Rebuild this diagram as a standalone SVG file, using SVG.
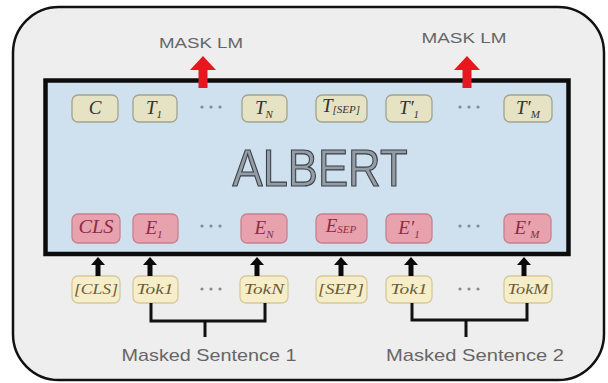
<svg xmlns="http://www.w3.org/2000/svg" width="608" height="383" viewBox="0 0 608 383">
  <defs>
    <style>
      .frame { fill: #eeeeee; stroke: #111; stroke-width: 2.5; }
      .model { fill: #cfe0ee; stroke: #0c0c0c; stroke-width: 4.5; }
      .out { fill: #e6e2c4; stroke: #a3a38e; stroke-width: 1.3; }
      .emb { fill: #e8a2ad; stroke: #c8808f; stroke-width: 1.3; }
      .tok { fill: #f6eec8; stroke: #d6c99a; stroke-width: 1.3; }
      .m { font-family: "Liberation Serif", serif; font-style: italic; text-anchor: middle; }
      .mo { fill: #333; font-size: 19px; }
      .me { fill: #8c2a48; font-size: 19px; }
      .mt { fill: #6b5c3c; font-size: 15px; }
      .sub { font-size: 11px; }
      .cap { font-family: "Liberation Sans", Arial, sans-serif; fill: #666; text-anchor: middle; }
      .dot { fill: #7d8a98; }
      .dot2 { fill: #8a8a8a; }
      .up { fill: #0a0a0a; }
      .red { fill: #e8161e; }
      .brk { fill: none; stroke: #111; stroke-width: 3; }
    </style>
  </defs>

  <!-- outer panel -->
  <rect class="frame" x="13" y="7" width="591" height="373" rx="46" ry="46"/>

  <!-- encoder block -->
  <g id="albert">
    <rect class="model" x="45.5" y="80.5" width="523" height="173.5"/>
    <text x="320" y="186" font-family="Liberation Sans, Arial, sans-serif" font-size="52" fill="#949ca5" stroke="#3a4048" stroke-width="1.2" text-anchor="middle" textLength="175" lengthAdjust="spacingAndGlyphs">ALBERT</text>
  </g>

  <!-- output labels -->
  <g id="mlm1"><text class="cap" x="201" y="48" font-size="14" textLength="84" lengthAdjust="spacingAndGlyphs">MASK LM</text></g>
  <g id="mlm2"><text class="cap" x="464" y="43" font-size="14" textLength="85" lengthAdjust="spacingAndGlyphs">MASK LM</text></g>

  <!-- output row -->
  <g id="out-c"><rect class="out" x="72" y="95" width="46" height="27" rx="6"/><text class="m mo" x="95" y="114">C</text></g>
  <g id="out-t1"><rect class="out" x="133" y="95" width="44" height="27" rx="6"/><text class="m mo" x="154" y="114">T<tspan class="sub" dy="4">1</tspan></text></g>
  <g id="out-dots1"><circle class="dot" cx="202" cy="107" r="1.6"/><circle class="dot" cx="211" cy="107" r="1.6"/><circle class="dot" cx="220" cy="107" r="1.6"/></g>
  <g id="out-tn"><rect class="out" x="242" y="95" width="45" height="27" rx="6"/><text class="m mo" x="264" y="114">T<tspan class="sub" dy="4">N</tspan></text></g>
  <g id="out-tsep"><rect class="out" x="316" y="95" width="51" height="27" rx="6"/><text class="m mo" x="341" y="112" font-size="15">T<tspan class="sub" font-size="9" dy="1">[SEP]</tspan></text></g>
  <g id="out-t1p"><rect class="out" x="386" y="95" width="46" height="27" rx="6"/><text class="m mo" x="409" y="114">T′<tspan class="sub" dy="4">1</tspan></text></g>
  <g id="out-dots2"><circle class="dot" cx="460" cy="107" r="1.6"/><circle class="dot" cx="469" cy="107" r="1.6"/><circle class="dot" cx="478" cy="107" r="1.6"/></g>
  <g id="out-tmp"><rect class="out" x="504" y="95" width="48" height="27" rx="6"/><text class="m mo" x="528" y="114">T′<tspan class="sub" dy="4">M</tspan></text></g>

  <!-- embedding row -->
  <g id="emb-cls"><rect class="emb" x="72" y="214" width="48" height="29" rx="6"/><text class="m me" x="96" y="233" font-size="13" textLength="35" lengthAdjust="spacingAndGlyphs">CLS</text></g>
  <g id="emb-e1"><rect class="emb" x="133" y="214" width="45" height="29" rx="6"/><text class="m me" x="154" y="234">E<tspan class="sub" dy="4">1</tspan></text></g>
  <g id="emb-dots1"><circle class="dot" cx="202" cy="226" r="1.6"/><circle class="dot" cx="211" cy="226" r="1.6"/><circle class="dot" cx="220" cy="226" r="1.6"/></g>
  <g id="emb-en"><rect class="emb" x="241" y="214" width="46" height="29" rx="6"/><text class="m me" x="264" y="234">E<tspan class="sub" dy="4">N</tspan></text></g>
  <g id="emb-esep"><rect class="emb" x="316" y="214" width="51" height="29" rx="6"/><text class="m me" x="341" y="232" font-size="15">E<tspan class="sub" font-size="9" dy="1">SEP</tspan></text></g>
  <g id="emb-e1p"><rect class="emb" x="386" y="214" width="46" height="29" rx="6"/><text class="m me" x="409" y="234">E′<tspan class="sub" dy="4">1</tspan></text></g>
  <g id="emb-dots2"><circle class="dot" cx="460" cy="226" r="1.6"/><circle class="dot" cx="469" cy="226" r="1.6"/><circle class="dot" cx="478" cy="226" r="1.6"/></g>
  <g id="emb-emp"><rect class="emb" x="504" y="214" width="47" height="29" rx="6"/><text class="m me" x="527" y="234">E′<tspan class="sub" dy="4">M</tspan></text></g>

  <!-- input token row -->
  <g id="tok-cls"><rect class="tok" x="72" y="276" width="48" height="27" rx="6"/><text class="m mt" x="96" y="294" textLength="44" lengthAdjust="spacingAndGlyphs">[CLS]</text></g>
  <g id="tok-1"><rect class="tok" x="133" y="276" width="45" height="27" rx="6"/><text class="m mt" x="155" y="294" textLength="37" lengthAdjust="spacingAndGlyphs">Tok1</text></g>
  <g id="tok-dots1"><circle class="dot2" cx="202" cy="289" r="1.6"/><circle class="dot2" cx="211" cy="289" r="1.6"/><circle class="dot2" cx="220" cy="289" r="1.6"/></g>
  <g id="tok-n"><rect class="tok" x="240" y="276" width="48" height="27" rx="6"/><text class="m mt" x="264" y="294" textLength="40" lengthAdjust="spacingAndGlyphs">TokN</text></g>
  <g id="tok-sep"><rect class="tok" x="316" y="276" width="51" height="27" rx="6"/><text class="m mt" x="341" y="294" textLength="46" lengthAdjust="spacingAndGlyphs">[SEP]</text></g>
  <g id="tok-1b"><rect class="tok" x="386" y="276" width="46" height="27" rx="6"/><text class="m mt" x="409" y="294" textLength="37" lengthAdjust="spacingAndGlyphs">Tok1</text></g>
  <g id="tok-dots2"><circle class="dot2" cx="460" cy="289" r="1.6"/><circle class="dot2" cx="469" cy="289" r="1.6"/><circle class="dot2" cx="478" cy="289" r="1.6"/></g>
  <g id="tok-m"><rect class="tok" x="504" y="276" width="48" height="27" rx="6"/><text class="m mt" x="528" y="294" textLength="41" lengthAdjust="spacingAndGlyphs">TokM</text></g>

  <!-- sentence captions -->
  <g id="sent1"><text class="cap" x="209" y="361" font-size="17" textLength="175" lengthAdjust="spacingAndGlyphs">Masked Sentence 1</text></g>
  <g id="sent2"><text class="cap" x="475" y="361" font-size="17" textLength="178" lengthAdjust="spacingAndGlyphs">Masked Sentence 2</text></g>

  <!-- connectors -->
  <g id="connectors">
    <!-- MLM outputs -->
    <path class="red" d="M203 56 L216 70 L207.5 70 L207.5 88 L198.5 88 L198.5 70 L190 70 Z"/>
    <path class="red" d="M467 56 L480 70 L471.5 70 L471.5 88 L462.5 88 L462.5 70 L454 70 Z"/>
    <!-- token to embedding -->
    <path class="up" d="M98 257 L105 265 L100.5 265 L100.5 276 L95.5 276 L95.5 265 L91 265 Z"/>
    <path class="up" d="M150 257 L157 265 L152.5 265 L152.5 276 L147.5 276 L147.5 265 L143 265 Z"/>
    <path class="up" d="M257 257 L264 265 L259.5 265 L259.5 276 L254.5 276 L254.5 265 L250 265 Z"/>
    <path class="up" d="M341 257 L348 265 L343.5 265 L343.5 276 L338.5 276 L338.5 265 L334 265 Z"/>
    <path class="up" d="M411 257 L418 265 L413.5 265 L413.5 276 L408.5 276 L408.5 265 L404 265 Z"/>
    <path class="up" d="M524 257 L531 265 L526.5 265 L526.5 276 L521.5 276 L521.5 265 L517 265 Z"/>
    <!-- sentence brackets -->
    <path class="brk" d="M151 303 V321 H265 V303 M205 321 V337"/>
    <path class="brk" d="M412 303 V320 H527 V303 M466 320 V337"/>
  </g>
</svg>
